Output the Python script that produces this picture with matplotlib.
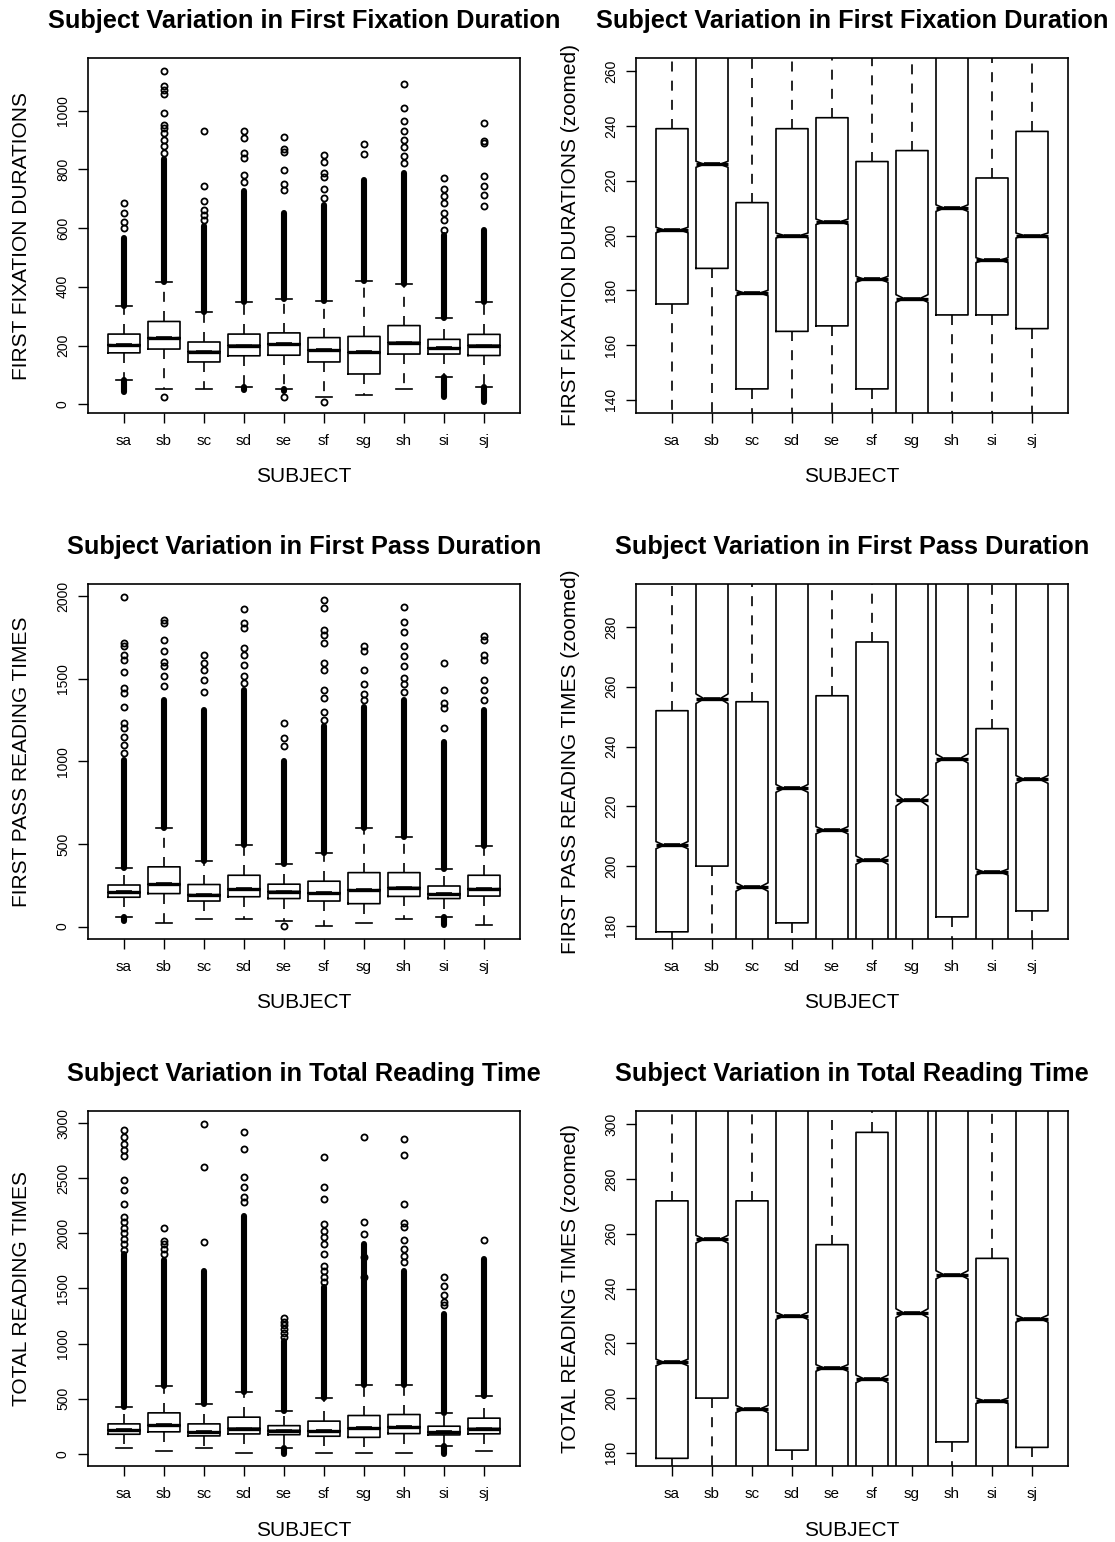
import matplotlib
matplotlib.use("Agg")
import matplotlib.pyplot as plt

plt.rcParams['font.family'] = ['Liberation Sans', 'DejaVu Sans']

subjects = ["sa", "sb", "sc", "sd", "se", "sf", "sg", "sh", "si", "sj"]

# first fixation duration
ff_med = [202, 226, 179, 200, 205, 184, 177, 210, 191, 200]
ff_q1 = [175, 188, 144, 165, 167, 144, 103, 171, 171, 166]
ff_q3 = [239, 282, 212, 239, 243, 227, 231, 268, 221, 238]
ff_whislo = [81, 52, 52, 57, 52, 23, 31, 52, 94, 57]
ff_whishi = [335, 415, 315, 348, 359, 353, 420, 410, 295, 348]
ff_notch = [1.0, 1.1, 1.0, 0.9, 1.0, 1.1, 1.4, 1.2, 0.9, 0.9]
ff_dense_lo = [43, None, None, 49, 45, None, None, None, 26, 9]
ff_dense_hi = [566, 835, 606, 725, 651, 680, 765, 788, 577, 594]
ff_out = [
    [602, 620, 651, 685],
    [856, 880, 900, 924, 941, 952, 994, 1057, 1072, 1085, 1134, 23],
    [628, 645, 663, 691, 744, 932],
    [756, 780, 839, 856, 907, 930],
    [731, 750, 797, 861, 870, 912, 23],
    [702, 733, 776, 788, 827, 850, 9],
    [853, 888],
    [822, 845, 878, 901, 930, 964, 1011, 1091],
    [594, 628, 651, 685, 708, 734, 770],
    [674, 714, 744, 778, 890, 898, 958],
]

# first pass reading time
fp_med = [207, 256, 193, 226, 212, 202, 222, 236, 198, 229]
fp_q1 = [178, 200, 155, 181, 170, 155, 139, 183, 170, 185]
fp_q3 = [252, 362, 255, 311, 257, 275, 327, 327, 246, 311]
fp_whislo = [58, 22, 48, 48, 36, 5, 22, 48, 58, 12]
fp_whishi = [358, 595, 400, 495, 382, 445, 598, 541, 350, 487]
fp_notch = [1.2, 1.6, 1.4, 1.3, 1.2, 1.4, 1.9, 1.5, 1.0, 1.3]
fp_dense_lo = [34, None, None, None, None, None, None, None, 10, None]
fp_dense_hi = [1010, 1374, 1313, 1434, 1000, 1212, 1333, 1374, 1121, 1313]
fp_out = [
    [1050, 1100, 1150, 1202, 1232, 1333, 1414, 1444, 1545, 1616, 1646, 1697, 1717, 1994],
    [1455, 1515, 1576, 1600, 1667, 1737, 1838, 1859],
    [1418, 1495, 1556, 1596, 1646],
    [1475, 1515, 1586, 1646, 1687, 1808, 1838, 1923],
    [1091, 1141, 1232, 4],
    [1250, 1300, 1384, 1434, 1556, 1596, 1717, 1768, 1798, 1929, 1980],
    [1374, 1410, 1471, 1556, 1667, 1697],
    [1420, 1470, 1505, 1576, 1636, 1697, 1784, 1842, 1935],
    [1202, 1323, 1354, 1434, 1596],
    [1374, 1434, 1495, 1616, 1646, 1737, 1758],
]

# total reading time
tr_med = [213, 258, 196, 230, 211, 207, 231, 245, 199, 229]
tr_q1 = [178, 200, 163, 181, 174, 160, 150, 184, 172, 182]
tr_q3 = [272, 372, 272, 333, 256, 297, 348, 357, 251, 324]
tr_whislo = [54, 24, 54, 9, 54, 9, 9, 9, 67, 24]
tr_whishi = [423, 614, 448, 565, 387, 508, 629, 629, 372, 523]
tr_notch = [1.2, 1.4, 1.3, 1.3, 1.2, 1.4, 1.6, 1.5, 1.0, 1.3]
tr_dense_lo = [None, None, None, None, 0, None, None, None, 0, None]
tr_dense_hi = [1814, 1754, 1663, 2162, 1028, 1512, 1905, 1663, 1270, 1769]
tr_out = [
    [1850, 1900, 1950, 2000, 2050, 2100, 2150, 2268, 2395, 2486, 2706, 2752, 2812, 2873, 2939],
    [1814, 1860, 1900, 1935, 2050],
    [1920, 2600, 2994],
    [2283, 2328, 2419, 2510, 2767, 2918],
    [1060, 1100, 1130, 1170, 1200, 1230],
    [1560, 1600, 1663, 1700, 1814, 1905, 1966, 2026, 2087, 2313, 2419, 2697],
    [1603, 1784, 1996, 2102, 2873],
    [1739, 1799, 1860, 1941, 2056, 2093, 2268, 2715, 2858],
    [1346, 1376, 1445, 1527, 1603],
    [1941],
]

W, H = 1115, 1542


def draw_panel(ax, med, q1, q3, lo, hi, notch, dense_lo, dense_hi, out,
               ylim, yticks, title, ylabel):
    pos = list(range(1, len(subjects) + 1))
    stats = []
    for i in range(len(subjects)):
        stats.append(dict(med=med[i], q1=q1[i], q3=q3[i], whislo=lo[i], whishi=hi[i],
                          cilo=med[i] - notch[i], cihi=med[i] + notch[i],
                          fliers=[], label=subjects[i]))
    ax.bxp(stats, positions=pos, widths=0.8, capwidths=0.4, shownotches=True,
           showfliers=False,
           boxprops=dict(color='k', lw=1.2),
           whiskerprops=dict(color='k', lw=1.2, linestyle=(0, (6, 5.5))),
           capprops=dict(color='k', lw=1.2),
           medianprops=dict(color='k', lw=2.6, solid_capstyle='butt'))
    # R draws the thick median across the whole box
    ax.hlines(med, [p - 0.4 for p in pos], [p + 0.4 for p in pos], color='k', lw=2.4)

    # dense runs of outliers show up as solid columns
    for i in range(len(subjects)):
        lc = ax.vlines(pos[i], hi[i], dense_hi[i], color='k', lw=4.4)
        lc.set_capstyle('round')
        if dense_lo[i] is not None:
            lc = ax.vlines(pos[i], dense_lo[i], lo[i], color='k', lw=4.4)
            lc.set_capstyle('round')
        ax.plot([pos[i]] * len(out[i]), out[i], 'o', mfc='none', mec='k',
                ms=4.4, mew=1.3)

    ax.set_xlim(0.1, 10.9)
    ax.set_ylim(*ylim)
    ax.set_xticks(pos)
    ax.set_xticklabels(subjects, fontsize=11)
    ax.set_yticks(yticks)
    ax.set_yticklabels([str(t) for t in yticks], fontsize=10, rotation=90, va='center')
    ax.tick_params(axis='x', direction='out', length=7, width=1, pad=8)
    ax.tick_params(axis='y', direction='out', length=7, width=1, pad=6)
    for s in ax.spines.values():
        s.set_linewidth(1.2)

    ax.text(0.5, 1 + 30 / 355, title, transform=ax.transAxes, ha='center',
            va='baseline', fontsize=18.3, fontweight='bold')
    ax.set_xlabel("SUBJECT", fontsize=15)
    ax.xaxis.set_label_coords(0.5, -64 / 355)
    ax.xaxis.label.set_va('center')
    ax.set_ylabel(ylabel, fontsize=15)
    ax.yaxis.set_label_coords(-66 / 432, 0.5)
    ax.yaxis.label.set_va('center')


fig = plt.figure(figsize=(W / 100, H / 100), dpi=100)

lefts = [88, 636]
tops = [58, 584, 1111]
aw, ah = 432, 355


def make_ax(col, row):
    return fig.add_axes([lefts[col] / W, 1 - (tops[row] + ah) / H, aw / W, ah / H])


ax = make_ax(0, 0)
draw_panel(ax, ff_med, ff_q1, ff_q3, ff_whislo, ff_whishi, ff_notch, ff_dense_lo, ff_dense_hi,
           ff_out, (-30, 1180), [0, 200, 400, 600, 800, 1000],
           "Subject Variation in First Fixation Duration", "FIRST FIXATION DURATIONS")
ax = make_ax(1, 0)
draw_panel(ax, ff_med, ff_q1, ff_q3, ff_whislo, ff_whishi, ff_notch, ff_dense_lo, ff_dense_hi,
           ff_out, (135.2, 264.8), [140, 160, 180, 200, 220, 240, 260],
           "Subject Variation in First Fixation Duration", "FIRST FIXATION DURATIONS (zoomed)")

ax = make_ax(0, 1)
draw_panel(ax, fp_med, fp_q1, fp_q3, fp_whislo, fp_whishi, fp_notch, fp_dense_lo, fp_dense_hi,
           fp_out, (-75, 2075), [0, 500, 1000, 1500, 2000],
           "Subject Variation in First Pass Duration", "FIRST PASS READING TIMES")
ax = make_ax(1, 1)
draw_panel(ax, fp_med, fp_q1, fp_q3, fp_whislo, fp_whishi, fp_notch, fp_dense_lo, fp_dense_hi,
           fp_out, (175.6, 294.4), [180, 200, 220, 240, 260, 280],
           "Subject Variation in First Pass Duration", "FIRST PASS READING TIMES (zoomed)")

ax = make_ax(0, 2)
draw_panel(ax, tr_med, tr_q1, tr_q3, tr_whislo, tr_whishi, tr_notch, tr_dense_lo, tr_dense_hi,
           tr_out, (-110, 3110), [0, 500, 1000, 1500, 2000, 2500, 3000],
           "Subject Variation in Total Reading Time", "TOTAL READING TIMES")
ax = make_ax(1, 2)
draw_panel(ax, tr_med, tr_q1, tr_q3, tr_whislo, tr_whishi, tr_notch, tr_dense_lo, tr_dense_hi,
           tr_out, (175.2, 304.8), [180, 200, 220, 240, 260, 280, 300],
           "Subject Variation in Total Reading Time", "TOTAL READING TIMES (zoomed)")

fig.savefig("out.png", dpi=100)
